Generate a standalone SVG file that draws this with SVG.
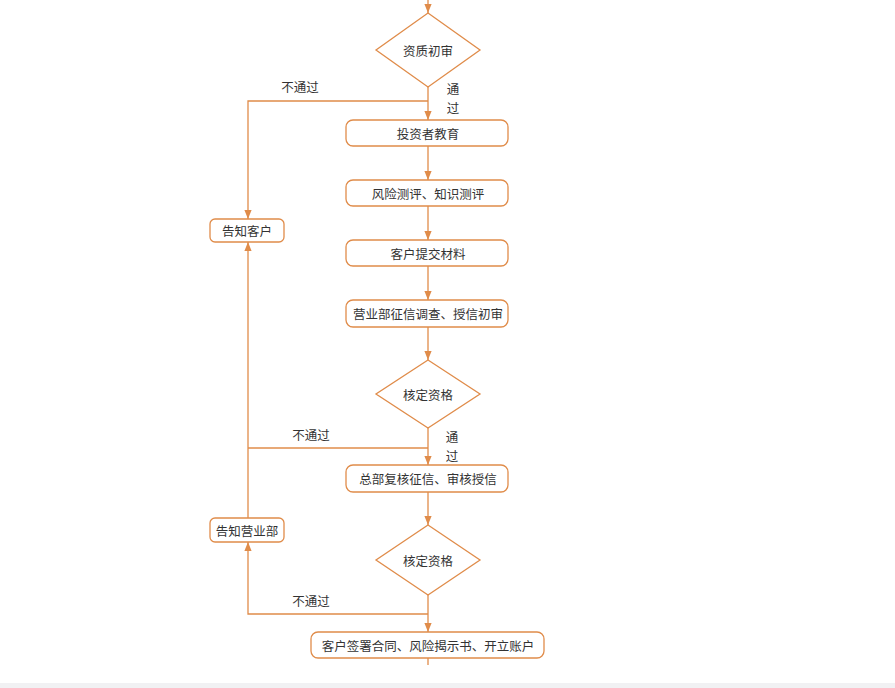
<svg xmlns="http://www.w3.org/2000/svg" width="895" height="688" viewBox="0 0 895 688">
<style>
.s{fill:#fff;stroke:#e08c4a;stroke-width:1.3}
.l{fill:none;stroke:#e08c4a;stroke-width:1.3}
text{font-family:"Noto Sans CJK SC",sans-serif;font-size:12.5px;fill:#333}
.c{text-anchor:middle;dominant-baseline:central}
</style>
<defs><marker id="a" viewBox="0 0 10 10" refX="10" refY="5" markerWidth="7" markerHeight="7" orient="auto"><path d="M0,1 L10,5 L0,9 z" fill="#e08c4a"/></marker></defs>
<rect width="895" height="688" fill="#fff"/>
<rect y="683" width="895" height="5" fill="#f1f1f3"/>
<g id="connectors">
<path class="l" d="M428,0 V13" marker-end="url(#a)"/>
<path class="l" d="M428,87 V120" marker-end="url(#a)"/>
<path class="l" d="M428,101 H248 V219" marker-end="url(#a)"/>
<path class="l" d="M428,146 V180" marker-end="url(#a)"/>
<path class="l" d="M428,206 V240" marker-end="url(#a)"/>
<path class="l" d="M428,266 V300" marker-end="url(#a)"/>
<path class="l" d="M428,327 V360" marker-end="url(#a)"/>
<path class="l" d="M428,428 V465" marker-end="url(#a)"/>
<path class="l" d="M428,448 H248"/>
<path class="l" d="M248,518 V242" marker-end="url(#a)"/>
<path class="l" d="M428,492 V525" marker-end="url(#a)"/>
<path class="l" d="M428,595 V632" marker-end="url(#a)"/>
<path class="l" d="M428,614 H248 V542" marker-end="url(#a)"/>
<path class="l" d="M428,658 V665"/>
<text x="300" y="86" class="c">不通过</text>
<text x="453" y="88" class="c">通</text>
<text x="453" y="107" class="c">过</text>
<text x="311" y="434" class="c">不通过</text>
<text x="452" y="436" class="c">通</text>
<text x="452" y="455" class="c">过</text>
<text x="311" y="600" class="c">不通过</text>
</g>
<g id="d1"><path class="s" d="M428,13 L480,50 L428,87 L376,50 z"/><text x="428" y="50" class="c">资质初审</text></g>
<g id="r1"><rect class="s" x="346" y="120" width="162" height="26" rx="7"/><text x="428" y="133" class="c">投资者教育</text></g>
<g id="r2"><rect class="s" x="346" y="180" width="162" height="26" rx="7"/><text x="428" y="193" class="c">风险测评、知识测评</text></g>
<g id="r3"><rect class="s" x="346" y="240" width="162" height="26" rx="7"/><text x="428" y="253" class="c">客户提交材料</text></g>
<g id="r4"><rect class="s" x="346" y="300" width="162" height="27" rx="7"/><text x="428" y="313.5" class="c">营业部征信调查、授信初审</text></g>
<g id="d2"><path class="s" d="M428,360 L480,394 L428,428 L376,394 z"/><text x="428" y="394" class="c">核定资格</text></g>
<g id="r5"><rect class="s" x="346" y="465" width="162" height="27" rx="7"/><text x="428" y="478.5" class="c">总部复核征信、审核授信</text></g>
<g id="d3"><path class="s" d="M428,525 L480,560 L428,595 L376,560 z"/><text x="428" y="560" class="c">核定资格</text></g>
<g id="r6"><rect class="s" x="311" y="632" width="233" height="26" rx="7"/><text x="428" y="645" class="c">客户签署合同、风险揭示书、开立账户</text></g>
<g id="n1"><rect class="s" x="210" y="219" width="74" height="23" rx="5"/><text x="247" y="230.5" class="c">告知客户</text></g>
<g id="n2"><rect class="s" x="210" y="518" width="74" height="24" rx="5"/><text x="247" y="530" class="c">告知营业部</text></g>
</svg>
